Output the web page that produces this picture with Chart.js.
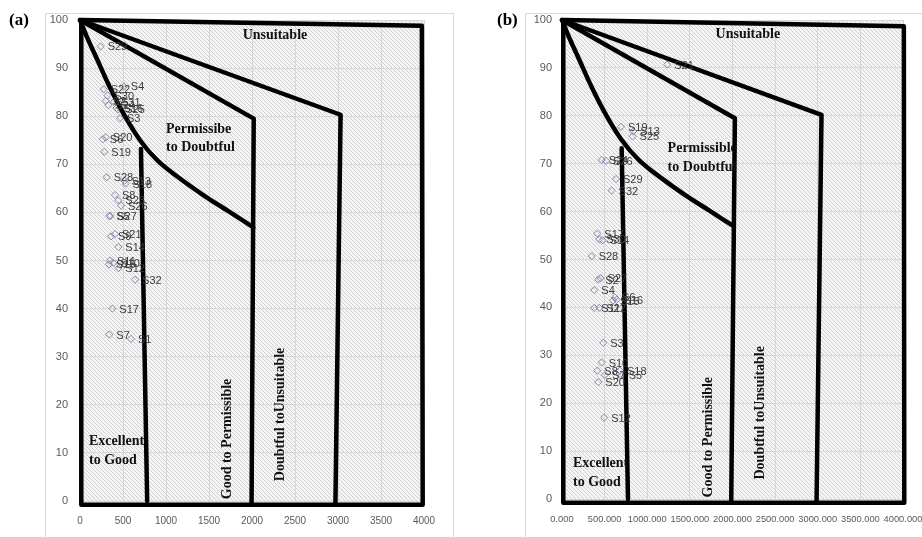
<!DOCTYPE html>
<html><head><meta charset="utf-8">
<script src="https://cdn.jsdelivr.net/npm/chart.js@4"></script>
<style>
html,body{margin:0;padding:0;background:#fff;overflow:hidden;width:922px;height:537px;position:relative;}
#ca{position:absolute;left:0;top:0;}
#cb{position:absolute;left:461px;top:0;}
</style></head><body>
<canvas id="ca" width="461" height="537"></canvas>
<canvas id="cb" width="499" height="537"></canvas>
<script>
// ---------- Panel (a) data ----------
const labelsA = ['S29','S22','S4','S30','S2','S31','S24','S16','S25','S3','S6','S20','S19','S28','S13','S18','S8','S23','S26','S5','S27','S21','S9','S14','S11','S10','S15','S12','S32','S17','S7','S1'];
const tdsA    = [240,275,510,320,300,395,330,425,445,465,265,300,283,310,516,530,407,446,477,340,352,407,360,446,349,388,337,446,640,376,341,593];
const naA     = [94.5,85.6,86.2,84.3,83.2,83.0,82.3,81.7,81.4,79.6,75.2,75.6,72.6,67.3,66.6,66.0,63.6,62.5,61.4,59.3,59.2,55.5,55.0,52.8,50.0,49.5,49.2,48.4,46.0,40.0,34.6,33.7];

// ---------- Panel (b) data ----------
const labelsB = ['S21','S19','S13','S25','S24','S26','S29','S32','S17','S30','S14','S28','S2','S27','S4','S6','S16','S15','S11','S22','S3','S10','S8','S7','S18','S5','S20','S12'];
const tdsB    = [1234,692,836,828,465,516,633,582,414,437,477,348,426,453,379,621,641,598,379,437,484,465,414,504,680,700,426,496];
const naB     = [90.7,77.7,76.8,75.7,70.8,70.6,66.8,64.4,55.4,54.2,54.0,50.7,45.8,46.1,43.6,42.1,41.6,41.4,39.9,39.9,32.6,28.5,26.8,25.9,26.8,25.8,24.4,17.0];

// ---------- Classification boundaries (TDS, Na%) ----------
const curveX   = [0, 80, 200, 340, 504, 698, 900, 1150, 1450, 1730, 2016];
const curveY   = [100, 96.5, 91.8, 86.3, 80.6, 75.0, 70.8, 67.2, 63.4, 60.2, 56.9];
const excA_X   = [709, 781];   const excA_Y  = [73.2, 0];
const permA_X  = [0, 2020, 1995]; const permA_Y = [100, 79.5, -0.6];
const doubA_X  = [0, 3030, 2970]; const doubA_Y = [100, 80.3, -0.6];
const outerA_X = [15, 3975, 3985, 15, 15]; const outerA_Y = [100, 98.8, -0.8, -0.8, 100];
const excB_X   = [700, 774];   const excB_Y  = [73.2, 0];
const permB_X  = [0, 2028, 1985]; const permB_Y = [100, 79.5, -0.6];
const doubB_X  = [0, 3044, 2986]; const doubB_Y = [100, 80.2, -0.6];
const outerB_X = [15, 4010, 4015, 15, 15]; const outerB_Y = [100, 98.7, -0.8, -0.8, 100];

const xTickStep = 500, yTickStep = 10;

const zonesA = [
  {t:'Unsuitable', x:2267, y:96.9, align:'center'},
  {t:'Permissibe', x:1000, y:77.3, align:'left'},
  {t:'to Doubtful', x:1000, y:73.6, align:'left'},
  {t:'Excellent', x:105, y:12.3, align:'left'},
  {t:'to Good', x:105, y:8.5, align:'left'},
  {t:'Good to Permissible', x:1709, y:12.9, align:'center', rot:true},
  {t:'Doubtful toUnsuitable', x:2326, y:18.0, align:'center', rot:true}
];
const zonesB = [
  {t:'Unsuitable', x:2180, y:96.9, align:'center'},
  {t:'Permissible', x:1239, y:73.1, align:'left'},
  {t:'to Doubtful', x:1239, y:69.3, align:'left'},
  {t:'Excellent', x:129, y:7.5, align:'left'},
  {t:'to Good', x:129, y:3.5, align:'left'},
  {t:'Good to Permissible', x:1712, y:12.9, align:'center', rot:true},
  {t:'Doubtful toUnsuitable', x:2333, y:18.0, align:'center', rot:true}
];

function pts(xs, ys){ return xs.map((x,i)=>({x:x, y:ys[i]})); }

function hatchPattern(ctx){
  const c=document.createElement('canvas'); c.width=4; c.height=4;
  const g=c.getContext('2d');
  g.fillStyle='#f5f5f5'; g.fillRect(0,0,4,4);
  g.strokeStyle='#d0d0d0'; g.lineWidth=1;
  g.beginPath();
  g.moveTo(-1,-1); g.lineTo(5,5);
  g.moveTo(-1,3); g.lineTo(1,5);
  g.moveTo(3,-1); g.lineTo(5,1);
  g.stroke();
  return ctx.createPattern(c,'repeat');
}

const SERIF = '"Liberation Serif","Times New Roman",serif';
const SANS = '"Liberation Sans",Arial,sans-serif';

function makeChart(id, opt){
  const canvas=document.getElementById(id);
  const ctx=canvas.getContext('2d');
  const lineDs = (xs,ys,extra)=>Object.assign({
    data: pts(xs,ys), showLine:true, borderColor:'#000', borderWidth:4.5,
    pointRadius:0, pointHoverRadius:0, fill:false, clip:false, tension:0,
    borderJoinStyle:'round', borderCapStyle:'round'
  }, extra||{});
  const datasets=[
    lineDs(opt.curveX,opt.curveY,{tension:0.4}),
    lineDs(opt.excX,opt.excY),
    lineDs(opt.permX,opt.permY),
    lineDs(opt.doubX,opt.doubY),
    lineDs(opt.outerX,opt.outerY),
    {data: pts(opt.tds,opt.na), showLine:false, pointStyle:'rectRot', pointRadius:3.6,
     pointBorderColor:'#8c84ad', pointBorderWidth:1, pointBackgroundColor:'rgba(255,255,255,0)', clip:false}
  ];
  const pointIdx=5;
  const deco={
    id:'deco',
    beforeDraw(chart){
      const c=chart.ctx, a=chart.chartArea;
      c.save();
      c.fillStyle='#fff'; c.fillRect(0,0,chart.width,chart.height);
      c.strokeStyle='#d9d9d9'; c.lineWidth=1;
      c.strokeRect(opt.frame[0]+0.5,opt.frame[1]+0.5,opt.frame[2],opt.frame[3]);
      c.fillStyle=hatchPattern(c);
      c.fillRect(a.left,a.top,a.right-a.left,a.bottom-a.top);
      c.fillStyle='#000'; c.font='bold 17px '+SERIF; c.textBaseline='middle'; c.textAlign='left';
      c.fillText(opt.tag, opt.tagX, 21);
      c.restore();
    },
    afterDatasetsDraw(chart){
      const c=chart.ctx, sx=chart.scales.x, sy=chart.scales.y;
      c.save();
      const meta=chart.getDatasetMeta(pointIdx);
      c.fillStyle='#3a3a3a'; c.font='11px '+SANS; c.textBaseline='middle'; c.textAlign='left';
      meta.data.forEach((p,i)=>{ c.fillText(opt.labels[i], p.x+7, p.y+1); });
      c.fillStyle='#111'; c.font='bold 14px '+SERIF;
      opt.zones.forEach(z=>{
        const px=sx.getPixelForValue(z.x), py=sy.getPixelForValue(z.y);
        c.save(); c.translate(px,py);
        if(z.rot) c.rotate(-Math.PI/2);
        c.textAlign=z.align; c.textBaseline='middle';
        c.fillText(z.t,0,0); c.restore();
      });
      c.restore();
    }
  };
  return new Chart(ctx,{
    type:'scatter',
    data:{datasets},
    plugins:[deco],
    options:{
      responsive:false, animation:false, events:[],
      layout:{padding:{left:0,right:opt.padRight,top:opt.top,bottom:0}},
      plugins:{legend:{display:false}, tooltip:{enabled:false}},
      scales:{
        x:{type:'linear', min:0, max:4000,
           ticks:{stepSize:xTickStep, autoSkip:false, color:'#595959', font:{size:opt.xFont, family:SANS}, padding:opt.xPad, maxRotation:0,
                  callback:opt.xFmt},
           grid:{color:'#d6d6d6', drawTicks:false}, border:{display:false},
           afterFit(s){ s.height=opt.xH; }},
        y:{type:'linear', min:0, max:100,
           ticks:{stepSize:yTickStep, color:'#595959', font:{size:11, family:SANS}, padding:opt.yPad},
           grid:{color:'#d6d6d6', drawTicks:false}, border:{display:false},
           afterFit(s){ s.width=opt.yW; }}
      }
    }
  });
}

makeChart('ca',{
  labels:labelsA, tds:tdsA, na:naA, zones:zonesA,
  curveX, curveY, excX:excA_X, excY:excA_Y, permX:permA_X, permY:permA_Y, doubX:doubA_X, doubY:doubA_Y,
  outerX:outerA_X, outerY:outerA_Y, xFont:10,
  yW:80, padRight:37, top:20, xH:36, xPad:14, yPad:12,
  xFmt:(v)=>String(v), frame:[45,13,408,540], tag:'(a)', tagX:9
});
makeChart('cb',{
  labels:labelsB, tds:tdsB, na:naB, zones:zonesB,
  curveX, curveY, excX:excB_X, excY:excB_Y, permX:permB_X, permY:permB_Y, doubX:doubB_X, doubY:doubB_Y,
  outerX:outerB_X, outerY:outerB_Y, xFont:9.3,
  yW:101, padRight:57, top:20, xH:38, xPad:15, yPad:10,
  xFmt:(v)=>Number(v).toFixed(3), frame:[64,13,500,540], tag:'(b)', tagX:36
});
</script>
</body></html>
